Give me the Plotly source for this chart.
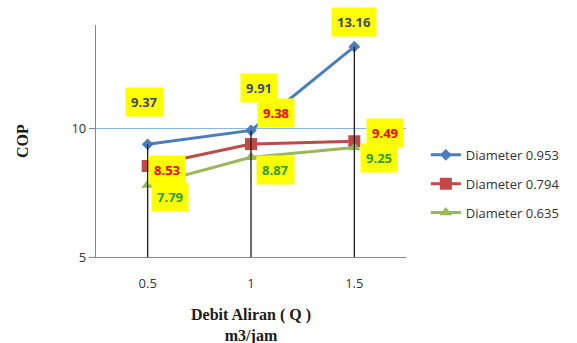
import plotly.graph_objects as go

# Flow rate categories (m3/jam) and COP per tube diameter
flow = ["0.5", "1", "1.5"]
cop_0953 = [9.37, 9.91, 13.16]
cop_0794 = [8.53, 9.38, 9.49]
cop_0635 = [7.79, 8.87, 9.25]
series_names = ["Diameter 0.953", "Diameter 0.794", "Diameter 0.635"]
y_ticks = [5, 10]

line_colors = ["#4A7EBB", "#BE4B48", "#98B954"]
text_colors = ["#3B4A66", "#FF0000", "#2BA03C"]
symbols = ["diamond", "square", "triangle-up"]
marker_sizes = [9, 12, 11]
# pixel offsets of each value label from its point
label_shift = [
    [(-3, 42), (8, 42), (0, 25)],
    [(19, -4), (25, 31), (31, 8)],
    [(22, -12), (24, -13), (25, -11)],
]

Y_MIN, Y_MAX = 5, 14

fig = go.Figure()

all_series = [cop_0953, cop_0794, cop_0635]
for i, (name, vals) in enumerate(zip(series_names, all_series)):
    fig.add_trace(go.Scatter(
        x=flow, y=vals, mode="lines+markers", name=name,
        legendgroup=name,
        line=dict(color=line_colors[i], width=3),
        marker=dict(symbol=symbols[i], size=marker_sizes[i], color=line_colors[i]),
    ))

# drop lines from the top series down to the axis
drop_x, drop_y = [], []
for c, v in zip(flow, cop_0953):
    drop_x += [c, c, None]
    drop_y += [Y_MIN, v, None]
fig.add_trace(go.Scatter(x=drop_x, y=drop_y, mode="lines",
                         line=dict(color="#1a1a1a", width=1.3),
                         showlegend=False, hoverinfo="skip"))

# value labels (category positions given by index)
for i, vals in enumerate(all_series):
    for j, v in enumerate(vals):
        dx, dy = label_shift[i][j]
        fig.add_annotation(
            x=j, y=v, text=f"<b>{v:.2f}</b>", showarrow=False,
            xshift=dx, yshift=dy, bgcolor="#FFFF00", borderpad=5,
            font=dict(family="Open Sans", size=13, color=text_colors[i]),
        )

fig.add_annotation(x=0.5, y=0, xref="paper", yref="paper", yshift=-68,
                   xanchor="center", yanchor="middle",
                   text="<b>Debit Aliran ( Q )</b><br><b>m3/jam</b>",
                   showarrow=False, align="center",
                   font=dict(family="Liberation Serif", size=16, color="#1a1a1a"))
fig.add_annotation(x=0, y=0.5, xref="paper", yref="paper", xshift=-74,
                   xanchor="center", yanchor="middle",
                   text="<b>COP</b>", textangle=-90, showarrow=False,
                   font=dict(family="Liberation Serif", size=16, color="#1a1a1a"))

fig.update_xaxes(
    type="category", range=[-0.5, 2.5],
    showline=True, linecolor="#888888", linewidth=1.3,
    showgrid=False, ticks="", ticklabelstandoff=14,
    tickfont=dict(family="Open Sans", size=13, color="#333333"),
)
fig.update_yaxes(
    range=[Y_MIN, Y_MAX], tickvals=y_ticks,
    showline=True, linecolor="#888888", linewidth=1.3,
    showgrid=True, gridcolor="#8EB4E3", gridwidth=1,
    ticks="outside", ticklen=6, tickcolor="#888888",
    tickfont=dict(family="Open Sans", size=13, color="#333333"),
    zeroline=False,
)

fig.update_layout(
    width=577, height=343,
    margin=dict(l=96, r=171, t=25, b=86),
    paper_bgcolor="white", plot_bgcolor="white",
    legend=dict(x=1.064, y=0.505, xanchor="left", yanchor="top",
                tracegroupgap=9, font=dict(family="Open Sans", size=13, color="#333333"),
                itemwidth=30),
)

fig.write_html("out.html")
